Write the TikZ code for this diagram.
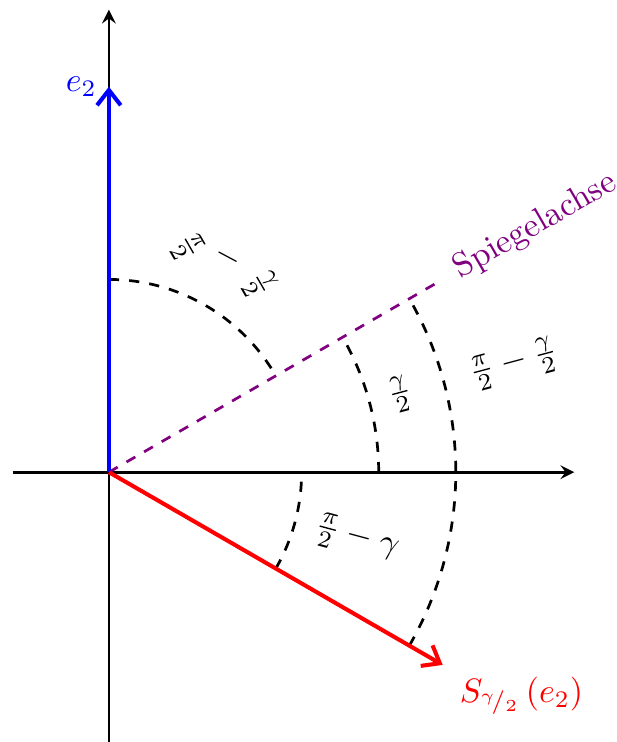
\documentclass[tikz,border=0pt]{standalone}
\usetikzlibrary{arrows.meta}
\begin{document}
\begin{tikzpicture}[
  axis/.style={thick,-stealth},
  vec/.style={very thick,-{Straight Barb[length=4.5pt,width=7pt]}},
  arcd/.style={thick,dashed},
]
\useasboundingbox (-1.13,-2.80) rectangle (5.27,4.90);
\coordinate (O) at (0,0);
\coordinate (xl) at (-1,0);
\coordinate (xr) at (4.83,0);
\coordinate (yb) at (0,-2.8);
\coordinate (yt) at (0,4.8);
\coordinate (e2) at (90:4);
\coordinate (se2) at (-30:4);
\coordinate (s) at (30:4);
% axes
\draw[axis] (xl) -- (xr);
\draw[axis] (yb) -- (yt);
% arcs
\draw[arcd] (90:2) arc[start angle=90,end angle=30,radius=2];
\draw[arcd] (0:2.8) arc[start angle=0,end angle=30,radius=2.8];
\draw[arcd] (-30:3.6) arc[start angle=-30,end angle=30,radius=3.6];
\draw[arcd] (-30:2) arc[start angle=-30,end angle=0,radius=2];
% mirror axis
\draw[violet,thick,dashed] (O) -- (s);
\node[violet,anchor=west,rotate=30,inner sep=4.5pt] (slab) at (s) {Spiegelachse};
% vectors
\draw[vec,blue] (O) -- (e2);
\node[blue,left] (e2lab) at (e2) {$e_2$};
\draw[vec,red] (O) -- (se2);
\node[red,below right,xshift=1.5pt] (se2lab) at (se2) {$S_{{}^{\gamma}\!/_{2}}\left(e_2\right)$};
% angle labels
\node[rotate=-28] (l1) at (61:2.45) {$\rotatebox{-32}{$\frac{\pi}{2}$}-\rotatebox{-32}{$\frac{\gamma}{2}$}$};
\node[rotate=15] (l2) at (15:3.13) {$\frac{\gamma}{2}$};
\node[rotate=15] (l3) at (15:4.35) {$\frac{\pi}{2}-\frac{\gamma}{2}$};
\node[rotate=-15] (l4) at (-15:2.66) {$\frac{\pi}{2}-\gamma$};
\end{tikzpicture}
\end{document}
